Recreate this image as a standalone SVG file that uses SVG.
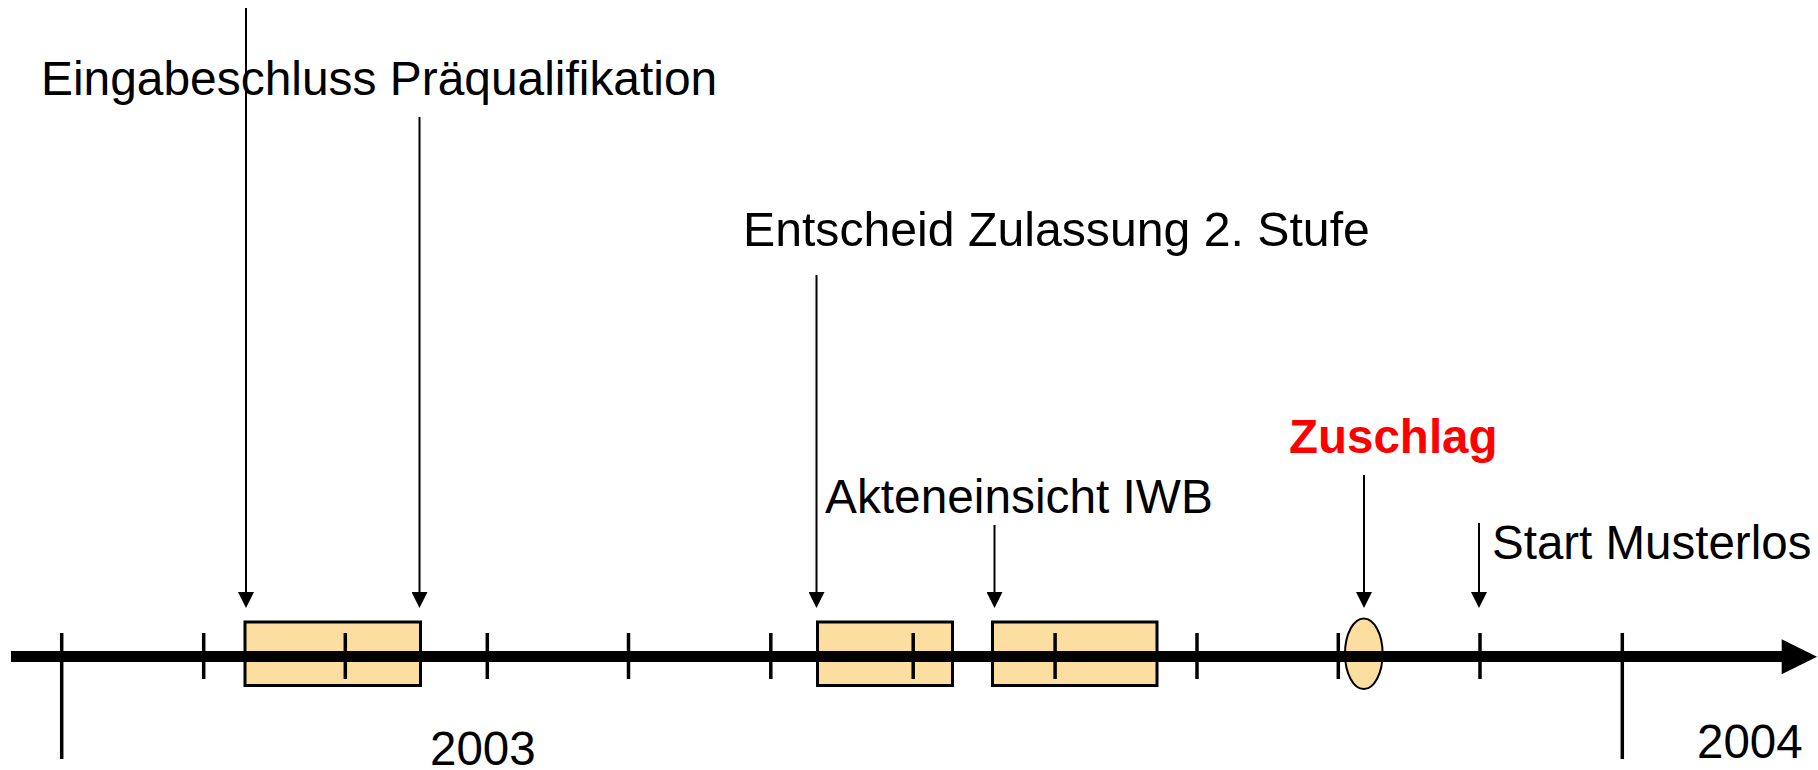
<svg xmlns="http://www.w3.org/2000/svg" width="1818" height="770" viewBox="0 0 1818 770">
<style>
  text { font-family: "Liberation Sans", Arial, sans-serif; font-size: 47.5px; fill: #000; }
  .red { fill: #FF0000; font-weight: bold; }
  .conn { stroke: #000; stroke-width: 2; fill: none; }
  .box { fill: #FCDFA0; stroke: #000; stroke-width: 3; }
  .tick { stroke: #000; stroke-width: 3.5; }
  .axis { stroke: #000; stroke-width: 11; }
</style>
<defs>
  <marker id="ah" viewBox="0 0 16 16" refX="8" refY="8" markerWidth="16" markerHeight="16" markerUnits="userSpaceOnUse" orient="auto">
    <path d="M0,0 L16,8 L0,16 z" fill="#000"/>
  </marker>
</defs>
<rect x="0" y="0" width="1818" height="770" fill="#fff"/>

<g id="box1"><rect class="box" x="245" y="622" width="175.5" height="63.5"/></g>
<g id="box2"><rect class="box" x="817.5" y="622" width="135" height="63.5"/></g>
<g id="box3"><rect class="box" x="992.5" y="622" width="164.5" height="63.5"/></g>
<g id="zuschlag-marker"><ellipse class="box" style="stroke-width:2" cx="1363.8" cy="653.7" rx="18.8" ry="35.3"/></g>

<g id="axis">
  <line class="axis" x1="11" y1="656.5" x2="1784" y2="656.5"/>
  <polygon points="1781.7,639.3 1817,656.8 1781.7,674.3" fill="#000"/>
  <line class="tick" x1="61.7" y1="633" x2="61.7" y2="759"/>
  <line class="tick" x1="203.7" y1="633" x2="203.7" y2="679"/>
  <line class="tick" x1="345.3" y1="633" x2="345.3" y2="679"/>
  <line class="tick" x1="487.3" y1="633" x2="487.3" y2="679"/>
  <line class="tick" x1="628.5" y1="633" x2="628.5" y2="679"/>
  <line class="tick" x1="770.8" y1="633" x2="770.8" y2="679"/>
  <line class="tick" x1="913.2" y1="633" x2="913.2" y2="679"/>
  <line class="tick" x1="1055.1" y1="633" x2="1055.1" y2="679"/>
  <line class="tick" x1="1197" y1="633" x2="1197" y2="679"/>
  <line class="tick" x1="1338.3" y1="633" x2="1338.3" y2="679"/>
  <line class="tick" x1="1480" y1="633" x2="1480" y2="679"/>
  <line class="tick" x1="1622.3" y1="633" x2="1622.3" y2="759"/>
</g>

<g id="connectors">
  <line class="conn" x1="246" y1="8" x2="246" y2="600" marker-end="url(#ah)"/>
  <line class="conn" x1="419.5" y1="117" x2="419.5" y2="600" marker-end="url(#ah)"/>
  <line class="conn" x1="816.5" y1="275" x2="816.5" y2="600" marker-end="url(#ah)"/>
  <line class="conn" x1="994.5" y1="525" x2="994.5" y2="600" marker-end="url(#ah)"/>
  <line class="conn" x1="1364" y1="475" x2="1364" y2="600" marker-end="url(#ah)"/>
  <line class="conn" x1="1479" y1="523" x2="1479" y2="600" marker-end="url(#ah)"/>
</g>

<g id="label-eingabe"><text x="41" y="95" style="font-size:47.9px">Eingabeschluss Präqualifikation</text></g>
<g id="label-entscheid"><text x="743" y="246" style="font-size:48.2px">Entscheid Zulassung 2. Stufe</text></g>
<g id="label-akten"><text x="825" y="513" style="font-size:47.8px">Akteneinsicht IWB</text></g>
<g id="label-zuschlag"><text class="red" x="1289" y="453">Zuschlag</text></g>
<g id="label-start"><text x="1492" y="559">Start Musterlos</text></g>
<g id="label-2003"><text x="430" y="765">2003</text></g>
<g id="label-2004"><text x="1697" y="758">2004</text></g>
</svg>
